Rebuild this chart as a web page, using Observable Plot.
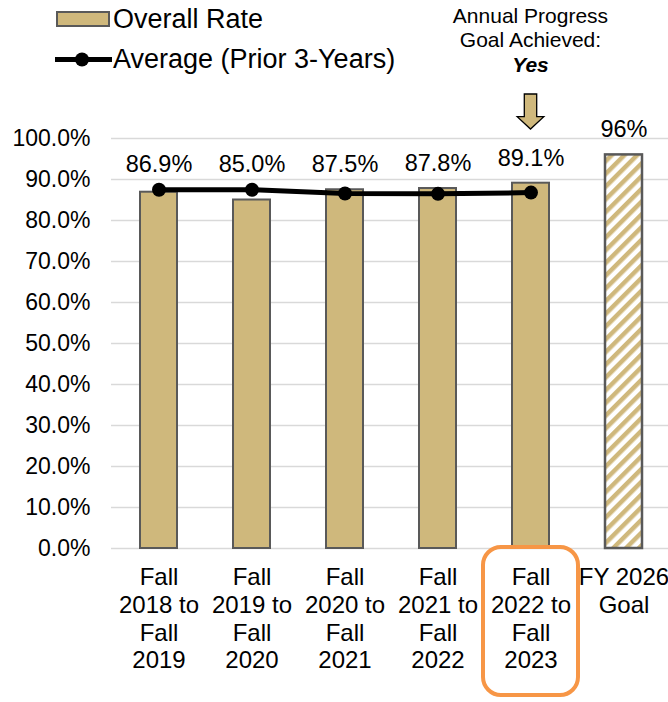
<!DOCTYPE html>
<html><head><meta charset="utf-8">
<script src="https://cdn.jsdelivr.net/npm/d3@7"></script>
<script src="https://cdn.jsdelivr.net/npm/@observablehq/plot@0.6"></script>
<style>
body{margin:0;background:#fff;font-family:"Liberation Sans",Arial,sans-serif;}
#wrap{position:relative;width:668px;height:702px;overflow:hidden;}
</style></head><body><div id="wrap"></div>
<script>
// ---- data ----
const categories = ["Fall 2018 to Fall 2019","Fall 2019 to Fall 2020","Fall 2020 to Fall 2021","Fall 2021 to Fall 2022","Fall 2022 to Fall 2023","FY 2026 Goal"];
const tickLabels = ["Fall\n2018 to\nFall\n2019","Fall\n2019 to\nFall\n2020","Fall\n2020 to\nFall\n2021","Fall\n2021 to\nFall\n2022","Fall\n2022 to\nFall\n2023","FY 2026\nGoal"];
const overallRate = [0.869, 0.850, 0.875, 0.878, 0.891];
const priorAvg = [0.875, 0.875, 0.866, 0.865, 0.868];
const goalValue = 0.96;
const yTicks = [0,0.1,0.2,0.3,0.4,0.5,0.6,0.7,0.8,0.9,1.0];
const legendLabels = ["Overall Rate","Average (Prior 3-Years)"];
const noteLines = ["Annual Progress","Goal Achieved:","Yes"];
const highlighted = categories[4];

const gold = "#CFB87C", edge = "#595959";
const rows = overallRate.map((v,i)=>({cat:categories[i], rate:v, avg:priorAvg[i]}));
const goalRow = [{cat:categories[5], rate:goalValue}];

const plot = Plot.plot({
  width:668, height:702, marginTop:138, marginBottom:154, marginLeft:111, marginRight:0,
  style:{fontFamily:"Liberation Sans, Arial, sans-serif", fontSize:"23px", color:"#000", background:"white", overflow:"visible"},
  x:{domain:categories, range:[111.4,670.6], paddingInner:0.603, paddingOuter:0.3015, label:null},
  y:{domain:[0,1], label:null},
  marks:[
    Plot.gridY(yTicks,{stroke:"#D9D9D9", strokeOpacity:1, strokeWidth:1.5}),
    Plot.axisY(yTicks,{tickSize:0, tickPadding:21, tickFormat:".1%", fontSize:23, label:null}),
    Plot.axisX({tickSize:0, tickPadding:17, tickFormat:d=>tickLabels[categories.indexOf(d)], fontSize:24, lineHeight:1.155, lineAnchor:"top", label:null}),
    Plot.barY(rows,{x:"cat", y:"rate", fill:gold, stroke:edge, strokeWidth:2}),
    Plot.barY(goalRow,{x:"cat", y:"rate", fill:"url(#hatch)", stroke:edge, strokeWidth:2.5}),
    Plot.line(rows,{x:"cat", y:"avg", stroke:"#000", strokeWidth:5, strokeLinejoin:"round"}),
    Plot.dot(rows,{x:"cat", y:"avg", r:7, fill:"#000", stroke:null}),
    Plot.text(rows,{x:"cat", y:d=>Math.max(d.rate,d.avg), text:d=>d3.format(".1%")(d.rate), dy:-25, fontSize:23.5, lineAnchor:"middle"}),
    Plot.text(goalRow,{x:"cat", y:"rate", text:d=>d3.format(".0%")(d.rate), dy:-25, fontSize:23.5, lineAnchor:"middle"})
  ]
});

const svg = d3.select(plot);
const defs = svg.insert("defs", ":first-child");
const pat = defs.append("pattern").attr("id","hatch").attr("patternUnits","userSpaceOnUse")
  .attr("width",9).attr("height",9).attr("patternTransform","rotate(45)");
pat.append("rect").attr("width",9).attr("height",9).attr("fill","#fff");
pat.append("rect").attr("width",4.5).attr("height",9).attr("fill",gold);

const xs = plot.scale("x");
const cx = xs.apply(highlighted) + xs.bandwidth/2;

// orange highlight box around the highlighted category label
svg.append("rect").attr("x",cx-47.5).attr("y",547).attr("width",95).attr("height",148)
  .attr("rx",18).attr("fill","none").attr("stroke","#F79646").attr("stroke-width",4);

// legend
const lg = svg.append("g").attr("font-size",27).attr("text-anchor","start");
lg.append("rect").attr("x",57).attr("y",12).attr("width",52).attr("height",14).attr("fill",gold).attr("stroke",edge).attr("stroke-width",2);
lg.append("text").attr("x",113).attr("y",18.5+0.358*27).text(legendLabels[0]);
lg.append("line").attr("x1",55).attr("x2",112).attr("y1",59.5).attr("y2",59.5).attr("stroke","#000").attr("stroke-width",5);
lg.append("circle").attr("cx",82).attr("cy",59.5).attr("r",7).attr("fill","#000");
lg.append("text").attr("x",113).attr("y",58.5+0.358*27).text(legendLabels[1]);

// annotation
const an = svg.append("g").attr("font-size",21).attr("text-anchor","middle");
[15,39.5,64].forEach((yc,i)=>{
  const t = an.append("text").attr("x",cx).attr("y",yc+0.358*21).text(noteLines[i]);
  if(i===2) t.attr("font-weight","bold").attr("font-style","italic");
});
// arrow
svg.append("path")
  .attr("d",`M${cx-6.2},94 L${cx+6.2},94 L${cx+6.2},116.7 L${cx+13.3},116.7 L${cx},129 L${cx-13.3},116.7 L${cx-6.2},116.7 Z`)
  .attr("fill",gold).attr("stroke","#000").attr("stroke-width",1.3).attr("stroke-linejoin","miter");

document.getElementById("wrap").appendChild(plot);
</script></body></html>
